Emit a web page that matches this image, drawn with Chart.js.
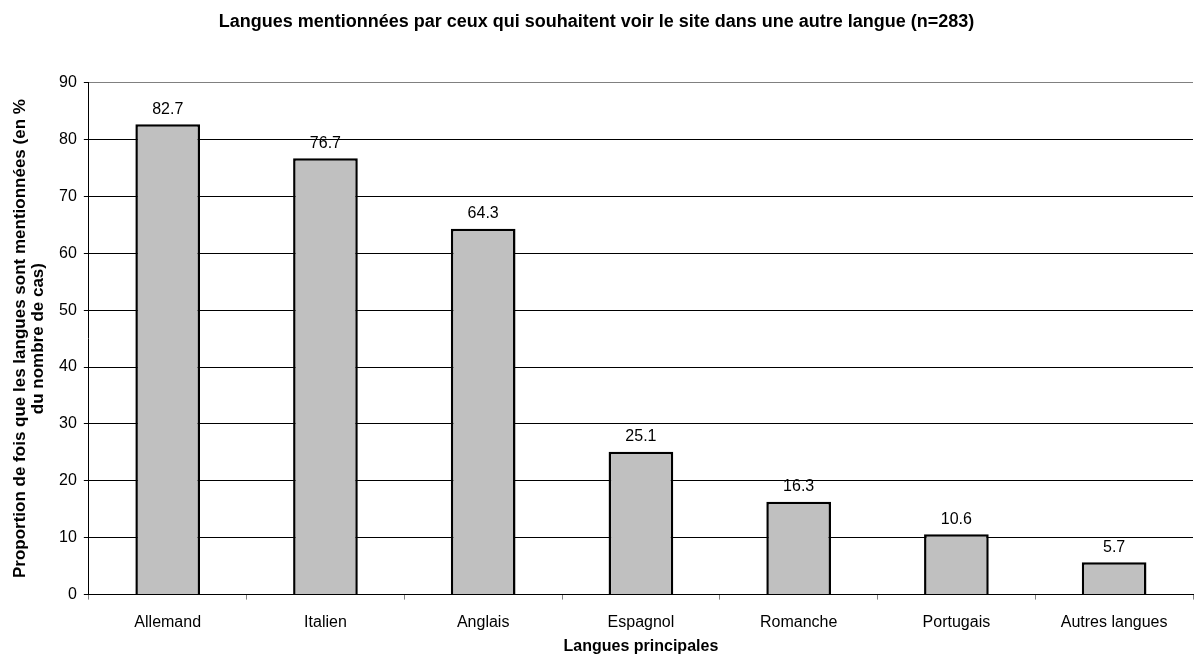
<!DOCTYPE html>
<html>
<head>
<meta charset="utf-8">
<script src="https://cdn.jsdelivr.net/npm/chart.js@4"></script>
<style>
    html, body { margin: 0; padding: 0; background: white; }
    #wrap { width: 1194px; height: 656px; }
</style>
</head>
<body>
<div id="wrap"><canvas id="languesChart"></canvas></div>
<script>
const categories = ['Allemand', 'Italien', 'Anglais', 'Espagnol', 'Romanche', 'Portugais', 'Autres langues'];
const proportions = [82.7, 76.7, 64.3, 25.1, 16.3, 10.6, 5.7];
const yTicks = [0, 10, 20, 30, 40, 50, 60, 70, 80, 90];

const fontFamily = '"Liberation Sans", Arial, sans-serif';

const fontOptions = {
    size: 16,
    family: fontFamily
};

const boldFont = {
    size: 16,
    family: fontFamily,
    weight: 'bold'
};

// values written above each bar
const valueLabels = {
    id: 'valueLabels',
    afterDatasetsDraw(chart) {
        const ctx = chart.ctx;
        const meta = chart.getDatasetMeta(0);
        ctx.save();
        ctx.font = '16px ' + fontFamily;
        ctx.fillStyle = '#000';
        ctx.textAlign = 'center';
        ctx.textBaseline = 'middle';
        meta.data.forEach((bar, i) => {
            ctx.fillText(proportions[i].toFixed(1), bar.x, bar.y - 15);
        });
        ctx.restore();
    }
};

const languesCtx = document.getElementById('languesChart').getContext('2d');
const languesChart = new Chart(languesCtx, {
    type: 'bar',
    data: {
        labels: categories,
        datasets: [{
            label: 'Proportion',
            data: proportions,
            backgroundColor: '#c0c0c0',
            borderColor: '#000',
            borderWidth: 2.5,
            barPercentage: 0.41,
            categoryPercentage: 1
        }]
    },
    options: {
        responsive: true,
        maintainAspectRatio: false,
        animation: false,
        layout: {
            padding: { top: 0, right: 1, bottom: 0, left: 0 }
        },
        scales: {
            y: {
                min: 0,
                max: 90,
                afterBuildTicks: axis => { axis.ticks = yTicks.map(v => ({ value: v })); },
                ticks: {
                    color: '#000',
                    font: fontOptions,
                    padding: 7
                },
                grid: {
                    color: ctx => ctx.tick && ctx.tick.value === 90 ? '#808080' : '#000',
                    lineWidth: 1,
                    tickLength: 5,
                    tickColor: '#000'
                },
                border: { color: '#000', width: 1 },
                title: {
                    display: true,
                    text: ['Proportion de fois que les langues sont mentionnées (en %', 'du nombre de cas)'],
                    color: '#000',
                    font: { size: 17, family: fontFamily, weight: 'bold', lineHeight: 1.06 },
                    padding: { top: 11, bottom: 5 }
                }
            },
            x: {
                ticks: {
                    color: '#000',
                    font: fontOptions,
                    padding: 13
                },
                grid: {
                    offset: true,
                    drawOnChartArea: false,
                    tickLength: 5,
                    tickColor: '#808080'
                },
                border: { color: '#000', width: 1 },
                title: {
                    display: true,
                    text: 'Langues principales',
                    color: '#000',
                    font: boldFont,
                    padding: { top: -8, bottom: 0 }
                }
            }
        },
        plugins: {
            legend: { display: false },
            tooltip: { enabled: false },
            title: {
                display: true,
                text: 'Langues mentionnées par ceux qui souhaitent voir le site dans une autre langue (n=283)',
                color: '#000',
                font: { size: 18, family: fontFamily, weight: 'bold' },
                padding: { top: 11, bottom: 50 }
            }
        }
    },
    plugins: [valueLabels]
});
</script>
</body>
</html>
